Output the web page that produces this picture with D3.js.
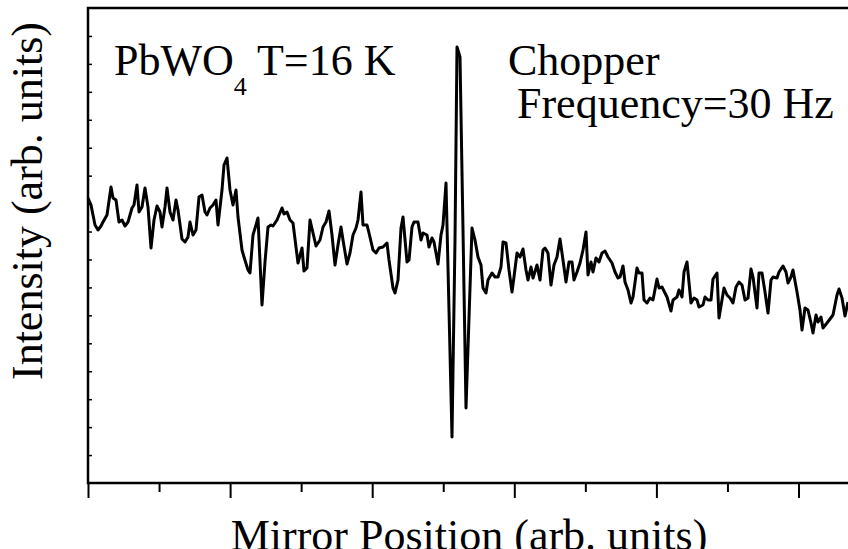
<!DOCTYPE html>
<html>
<head>
<meta charset="utf-8">
<script src="https://cdn.jsdelivr.net/npm/d3@7"></script>
<style>
  html, body { margin: 0; padding: 0; background: #fff; overflow: hidden; }
  svg { display: block; }
</style>
</head>
<body>
<div id="chart"></div>
<script>
// mirror position (arb. units)
const position = [
  0, 3, 7, 10, 13, 15, 19, 23, 25, 28, 31, 34, 37, 40, 44, 46, 49, 51, 54, 57,
  60, 63, 66, 69, 72, 74, 77, 79, 82, 85, 88, 90, 94, 97, 100, 102, 105, 108, 111, 114,
  117, 119, 122, 125, 128, 130, 134, 136, 139, 142, 145, 148, 150, 154, 156, 160, 162, 165, 168, 170,
  174, 177, 180, 183, 185, 189, 194, 196, 199, 202, 205, 210, 214, 216, 219, 222, 225, 228, 232, 235,
  238, 241, 244, 247, 250, 253, 255, 259, 262, 265, 268, 270, 273, 275, 279, 281, 285, 288, 291, 295,
  299, 301, 305, 307, 310, 313, 315, 319, 321, 324, 326, 330, 333, 335, 339, 341, 344, 346, 350, 353,
  355, 358, 361, 364, 367, 369, 372, 375, 378, 381, 384, 387, 390, 393, 395, 398, 400, 404, 407, 410,
  413, 415, 418, 421, 424, 426, 429, 432, 435, 438, 440, 443, 445, 449, 452, 455, 457, 460, 463, 466,
  469, 472, 475, 478, 481, 484, 486, 489, 492, 495, 498, 500, 503, 505, 508, 511, 514, 517, 520, 524,
  527, 530, 532, 535, 537, 540, 543, 545, 549, 551, 554, 556, 559, 562, 565, 569, 571, 574, 576, 579,
  583, 585, 589, 591, 594, 596, 599, 603, 606, 609, 611, 615, 617, 620, 623, 625, 629, 631, 634, 636,
  639, 642, 645, 648, 651, 654, 657, 660, 663, 665, 669, 671, 674, 677, 680, 683, 685, 689, 691, 695,
  698, 700, 703, 705, 709, 712, 714, 717, 720, 723, 725, 728, 730, 733, 735, 739, 742, 745, 749, 751,
  754, 757, 760
];

// intensity (arb. units)
const intensity = [
  285, 278, 258, 253, 257, 261, 268, 296, 285, 283, 261, 263, 257, 261, 275, 278, 298, 271, 276, 295,
  276, 235, 263, 277, 271, 256, 276, 295, 271, 263, 283, 273, 244, 241, 246, 261, 248, 253, 286, 288,
  271, 268, 275, 278, 283, 258, 293, 318, 325, 293, 278, 293, 266, 233, 226, 213, 210, 248, 258, 265,
  178, 221, 256, 258, 257, 263, 275, 269, 271, 263, 260, 220, 235, 212, 215, 263, 250, 237, 243, 256,
  261, 272, 248, 218, 238, 256, 243, 219, 230, 248, 255, 263, 291, 258, 258, 250, 233, 230, 235, 236,
  240, 223, 195, 190, 203, 255, 266, 221, 223, 256, 261, 261, 243, 250, 248, 236, 245, 241, 219, 248,
  258, 300, 173, 46, 243, 436, 426, 253, 75, 165, 255, 243, 226, 218, 195, 190, 203, 210, 206, 206,
  216, 241, 240, 213, 191, 206, 230, 226, 234, 213, 203, 216, 205, 218, 203, 233, 235, 230, 198, 218,
  226, 244, 223, 201, 221, 221, 203, 211, 220, 233, 251, 208, 221, 211, 225, 221, 230, 232, 226, 220,
  211, 205, 206, 217, 201, 193, 180, 186, 215, 210, 210, 183, 180, 185, 183, 204, 195, 196, 192, 186,
  172, 183, 186, 193, 186, 211, 221, 180, 185, 183, 176, 178, 186, 183, 183, 204, 210, 165, 183, 195,
  188, 185, 180, 196, 201, 198, 183, 185, 214, 206, 175, 210, 210, 191, 170, 203, 206, 205, 211, 217,
  211, 200, 206, 213, 191, 173, 153, 175, 173, 160, 150, 168, 161, 166, 155, 160, 164, 168, 188, 194,
  185, 167, 181
];

const xMajorStep = 142.1;
const yTickStep = 475 / 17;

const width = 848;
const height = 549;
const margin = { left: 88, top: 8, right: -2, bottom: 66 };
const serif = "'Liberation Serif'";

const svg = d3
  .select('#chart')
  .append('svg')
  .attr('width', width)
  .attr('height', height);

const x = d3
  .scaleLinear()
  .domain([0, 762])
  .range([margin.left, width - margin.right]);

const y = d3
  .scaleLinear()
  .domain([0, 475])
  .range([height - margin.bottom, margin.top]);

// x axis: major + minor ticks, no labels
const xMajor = d3.range(0, 762, xMajorStep);
const xMinor = d3.range(xMajorStep / 2, 762, xMajorStep);

svg
  .append('g')
  .attr('transform', `translate(0,${y(0)})`)
  .call(d3.axisBottom(x).tickValues(xMajor).tickSize(15).tickFormat(''))
  .call((g) => g.select('.domain').remove())
  .call((g) => g.selectAll('line').attr('stroke', '#000').attr('stroke-width', 2));

svg
  .append('g')
  .attr('transform', `translate(0,${y(0)})`)
  .call(d3.axisBottom(x).tickValues(xMinor).tickSize(9).tickFormat(''))
  .call((g) => g.select('.domain').remove())
  .call((g) => g.selectAll('line').attr('stroke', '#000').attr('stroke-width', 2));

// y axis: small inward ticks
svg
  .append('g')
  .attr('transform', `translate(${x(0)},0)`)
  .call(d3.axisRight(y).tickValues(d3.range(1, 17).map((i) => i * yTickStep)).tickSize(4).tickFormat(''))
  .call((g) => g.select('.domain').remove())
  .call((g) => g.selectAll('line').attr('stroke', '#000').attr('stroke-width', 1.5));

// frame
svg
  .append('rect')
  .attr('x', x(0))
  .attr('y', y(475))
  .attr('width', x(762) - x(0))
  .attr('height', y(0) - y(475))
  .attr('fill', 'none')
  .attr('stroke', '#000')
  .attr('stroke-width', 2.5);

// the interferogram
const points = position.map((p, i) => [p, intensity[i]]);

const line = d3
  .line()
  .x((d) => x(d[0]))
  .y((d) => y(d[1]));

svg
  .append('path')
  .datum(points)
  .attr('d', line)
  .attr('fill', 'none')
  .attr('stroke', '#000')
  .attr('stroke-width', 3)
  .attr('stroke-linejoin', 'round');

// labels
const sample = svg
  .append('text')
  .attr('x', 114)
  .attr('y', 75)
  .style('font-family', serif)
  .style('font-size', '44px');
sample.append('tspan').text('PbWO');
sample.append('tspan').style('font-size', '26px').attr('dy', 20).text('4');
sample.append('tspan').attr('dy', -20).text(' T=16 K');

svg
  .append('text')
  .attr('x', 508)
  .attr('y', 75)
  .style('font-family', serif)
  .style('font-size', '44px')
  .text('Chopper');

svg
  .append('text')
  .attr('x', 517)
  .attr('y', 118)
  .style('font-family', serif)
  .style('font-size', '44px')
  .text('Frequency=30 Hz');

svg
  .append('text')
  .attr('transform', 'translate(42,201) rotate(-90)')
  .attr('text-anchor', 'middle')
  .style('font-family', serif)
  .style('font-size', '44px')
  .text('Intensity (arb. units)');

svg
  .append('text')
  .attr('x', 469)
  .attr('y', 550)
  .attr('text-anchor', 'middle')
  .style('font-family', serif)
  .style('font-size', '44px')
  .text('Mirror Position (arb. units)');
</script>
</body>
</html>
